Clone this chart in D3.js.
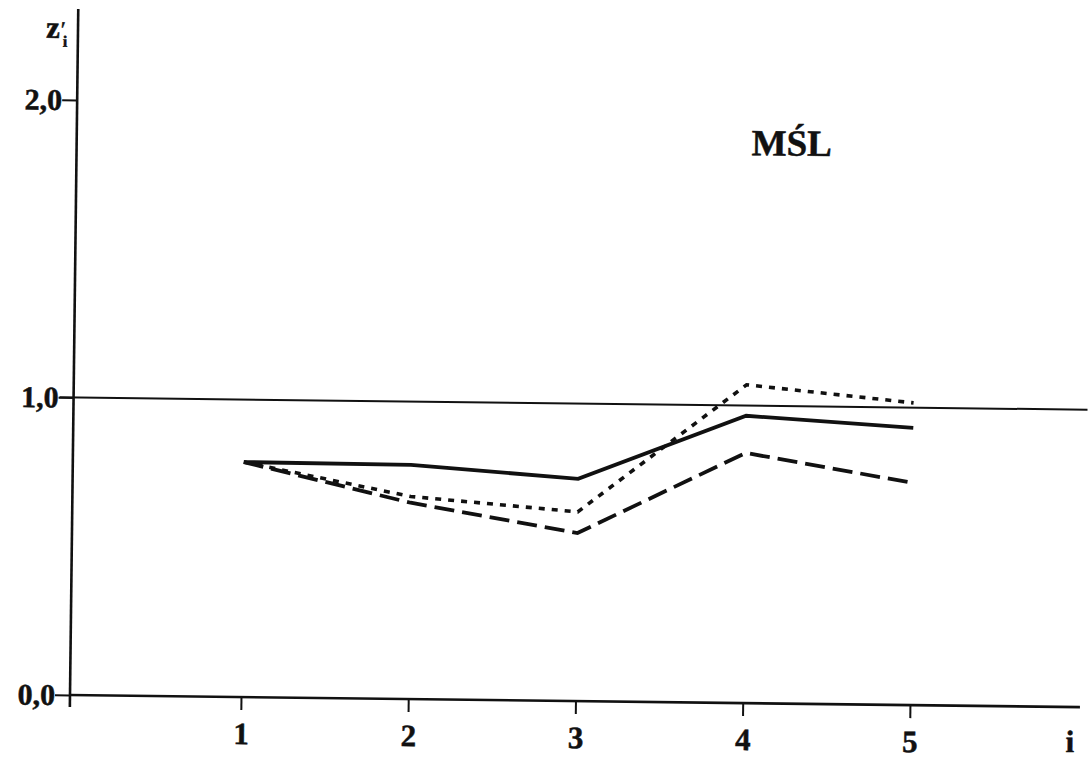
<!DOCTYPE html>
<html>
<head>
<meta charset="utf-8">
<script src="https://cdn.jsdelivr.net/npm/d3@7"></script>
<style>
  html, body { margin: 0; padding: 0; background: #fff; }
  svg { display: block; }
  text { font-family: "Liberation Serif", "Times New Roman", serif; font-weight: bold; fill: #111; stroke: #111; stroke-width: 0.5px; }
</style>
</head>
<body>
<div id="chart"></div>
<script>
// values
const xTicks = [1, 2, 3, 4, 5];
const yTicks = [0, 1, 2];
const yTickLabels = ['0,0', '1,0', '2,0'];
const solidVals = [0.79, 0.787, 0.747, 0.966, 0.932];
const dottedVals = [0.79, 0.681, 0.636, 1.07, 1.016];
const dashedVals = [0.79, 0.660, 0.565, 0.841, 0.747];
const refValue = 1.0;
const title = 'MŚL';

const width = 1089;
const height = 760;
const originX = 70;
const originY = 695;
const skew = 0.69; // the page was scanned slightly rotated

const svg = d3.select('#chart')
  .append('svg')
  .attr('width', width)
  .attr('height', height);

const g = svg.append('g')
  .attr('transform', `rotate(${skew},${originX},${originY})`);

const x = d3.scaleLinear().domain([1, 5]).range([241, 910]);
const y = d3.scaleLinear().domain([0, 2]).range([originY, 100]);

// reference line at 1,0
g.append('line')
  .attr('x1', originX - 14)
  .attr('x2', 1084)
  .attr('y1', y(refValue))
  .attr('y2', y(refValue))
  .attr('stroke', '#111')
  .attr('stroke-width', 2);

// y axis
const yAxis = g.append('g')
  .attr('transform', `translate(${originX},0)`)
  .call(d3.axisLeft(y)
    .tickValues(yTicks)
    .tickFormat((d, i) => yTickLabels[i])
    .tickSize(15)
    .tickSizeOuter(0)
    .tickPadding(0));
yAxis.select('.domain').remove();
yAxis.selectAll('line').attr('stroke', '#111').attr('stroke-width', 2);
yAxis.selectAll('text')
  .attr('font-size', 30)
  .attr('dy', '0.32em')
  .attr('fill', '#111');
yAxis.attr('font-family', null).attr('font-size', null);

g.append('line')
  .attr('x1', originX).attr('x2', originX)
  .attr('y1', 9).attr('y2', originY + 12)
  .attr('stroke', '#111')
  .attr('stroke-width', 2.6);

// x axis
const xAxis = g.append('g')
  .attr('transform', `translate(0,${originY})`)
  .call(d3.axisBottom(x)
    .tickValues(xTicks)
    .tickFormat(d3.format('d'))
    .tickSize(13)
    .tickSizeOuter(0));
xAxis.select('.domain').remove();
xAxis.selectAll('line').attr('stroke', '#111').attr('stroke-width', 2);
xAxis.selectAll('text')
  .attr('font-size', 31)
  .attr('y', 47)
  .attr('dy', 0)
  .attr('fill', '#111');
xAxis.attr('font-family', null).attr('font-size', null);

g.append('line')
  .attr('x1', originX - 1).attr('x2', 1080)
  .attr('y1', originY).attr('y2', originY)
  .attr('stroke', '#111')
  .attr('stroke-width', 2.6);

// series
const line = d3.line()
  .x((d, i) => x(xTicks[i]))
  .y(d => y(d));

const series = [
  { vals: solidVals, dash: null, w: 3.8 },
  { vals: dottedVals, dash: '6,7', w: 3.6 },
  { vals: dashedVals, dash: '20,8', w: 3.8 }
];

g.selectAll('path.series')
  .data(series)
  .enter()
  .append('path')
  .attr('class', 'series')
  .attr('d', d => line(d.vals))
  .attr('fill', 'none')
  .attr('stroke', '#111')
  .attr('stroke-width', d => d.w)
  .attr('stroke-dasharray', d => d.dash)
  .attr('stroke-linejoin', 'miter');

// labels
g.append('text')
  .attr('x', 745)
  .attr('y', 147)
  .attr('font-size', 37)
  .text(title);

const yLabel = g.append('text')
  .attr('x', 38)
  .attr('y', 38)
  .attr('font-size', 31)
  .text('z');
yLabel.append('tspan')
  .attr('dx', 1)
  .attr('dy', -1)
  .attr('font-size', 22)
  .style('font-weight', 'normal')
  .text('′');
yLabel.append('tspan')
  .attr('x', 55)
  .attr('y', 47)
  .attr('font-size', 16)
  .text('i');

g.append('text')
  .attr('x', 1066)
  .attr('y', 740)
  .attr('font-size', 31)
  .text('i');
</script>
</body>
</html>
